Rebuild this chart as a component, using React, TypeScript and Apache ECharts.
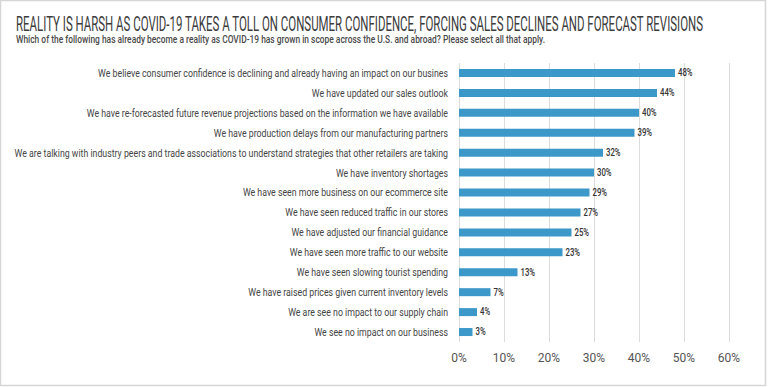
import React, { useEffect, useRef } from "react";
import * as echarts from "echarts";

const categories = [
  "We believe consumer confidence is declining and already having an impact on our busines",
  "We have updated our sales outlook",
  "We have re-forecasted future revenue projections based on the information we have available",
  "We have production delays from our manufacturing partners",
  "We are talking with industry peers and trade associations to understand strategies that other retailers are taking",
  "We have inventory shortages",
  "We have seen more business on our ecommerce site",
  "We have seen reduced traffic in our stores",
  "We have adjusted our financial guidance",
  "We have seen more traffic to our website",
  "We have seen slowing tourist spending",
  "We have raised prices given current inventory levels",
  "We are see no impact to our supply chain",
  "We see no impact on our business",
];
const values = [48, 44, 40, 39, 32, 30, 29, 27, 25, 23, 13, 7, 4, 3];
const xTicks = [0, 10, 20, 30, 40, 50, 60];

const title =
  "REALITY IS HARSH AS COVID-19 TAKES A TOLL ON CONSUMER CONFIDENCE, FORCING SALES DECLINES AND FORECAST REVISIONS";
const subtitle =
  "Which of the following has already become a reality as COVID-19 has grown in scope across the U.S. and abroad? Please select all that apply.";

const FONT = "Roboto, sans-serif";

function measure(text: string, font: string): number {
  const c = document.createElement("canvas").getContext("2d");
  if (!c) return text.length * 6;
  c.font = font;
  return c.measureText(text).width;
}

export default function App() {
  const ref = useRef<HTMLDivElement>(null);
  useEffect(() => {
    if (!ref.current) return;
    const chart = echarts.init(ref.current, null, { renderer: "svg" });

    const titleFont = `20px ${FONT}`;
    const subFont = `11px ${FONT}`;
    const catFont = `11.5px ${FONT}`;
    const valFont = `10px ${FONT}`;
    const titleScale = 688 / measure(title, titleFont);
    const subScale = 526 / measure(subtitle, subFont);
    const longest = categories.reduce((a, b) => (measure(b, catFont) > measure(a, catFont) ? b : a));
    const catScale = 434 / measure(longest, catFont);
    const valScale = 0.78;

    chart.setOption({
      animation: false,
      backgroundColor: "#ffffff",
      textStyle: { fontFamily: FONT },
      graphic: [
        {
          type: "rect",
          shape: { x: 0.5, y: 0.5, width: 765, height: 385 },
          style: { fill: "none", stroke: "#d6d6d6", lineWidth: 1.5 },
          silent: true,
        },
        {
          type: "text",
          x: 16,
          y: 24.5,
          scaleX: titleScale,
          style: {
            text: title,
            font: titleFont,
            fill: "#3c3c3c",
            textAlign: "left",
            textVerticalAlign: "middle",
          },
        },
        {
          type: "text",
          x: 16,
          y: 39.5,
          scaleX: subScale,
          style: {
            text: subtitle,
            font: `500 ${subFont}`,
            fill: "#4a4a4a",
            textAlign: "left",
            textVerticalAlign: "middle",
          },
        },
      ],
      grid: {
        left: 459,
        right: 39,
        top: 63,
        bottom: 45,
        containLabel: false,
        outerBoundsMode: "none",
      },
      xAxis: {
        type: "value",
        min: 0,
        max: 60,
        interval: 10,
        axisLine: { show: false },
        axisTick: { show: false },
        splitLine: { show: true, lineStyle: { color: "#dcdcdc", width: 1 } },
        axisLabel: {
          formatter: (v: number) => (xTicks.includes(v) ? `${v}%` : ""),
          color: "#555",
          fontSize: 12,
          margin: 10,
          fontFamily: FONT,
        },
      },
      yAxis: {
        type: "category",
        data: categories,
        inverse: true,
        axisLine: { show: false },
        axisTick: { show: false },
        axisLabel: { show: false },
      },
      series: [
        {
          type: "bar",
          data: values,
          barWidth: 8,
          itemStyle: { color: "#3b98c9" },
          label: { show: false },
        },
        {
          type: "custom",
          coordinateSystem: "cartesian2d",
          data: values.map((v, i) => [v, i]),
          encode: { x: 0, y: 1 },
          silent: true,
          z: 5,
          renderItem: (params: any, api: any) => {
            const v = api.value(0);
            const i = api.value(1);
            const base = api.coord([0, i]);
            const end = api.coord([v, i]);
            return {
              type: "group",
              children: [
                {
                  type: "text",
                  x: base[0] - 11,
                  y: base[1],
                  scaleX: catScale,
                  style: {
                    text: categories[i],
                    font: catFont,
                    fill: "#454545",
                    textAlign: "right",
                    textVerticalAlign: "middle",
                  },
                },
                {
                  type: "text",
                  x: end[0] + 3,
                  y: base[1],
                  scaleX: valScale,
                  style: {
                    text: `${v}%`,
                    font: `500 ${valFont}`,
                    fill: "#333",
                    textAlign: "left",
                    textVerticalAlign: "middle",
                  },
                },
              ],
            };
          },
        },
      ],
    });
    return () => chart.dispose();
  }, []);
  return (
    <div
      ref={ref}
      style={{ position: "fixed", left: 0, top: 0, width: 768, height: 387 }}
    />
  );
}
